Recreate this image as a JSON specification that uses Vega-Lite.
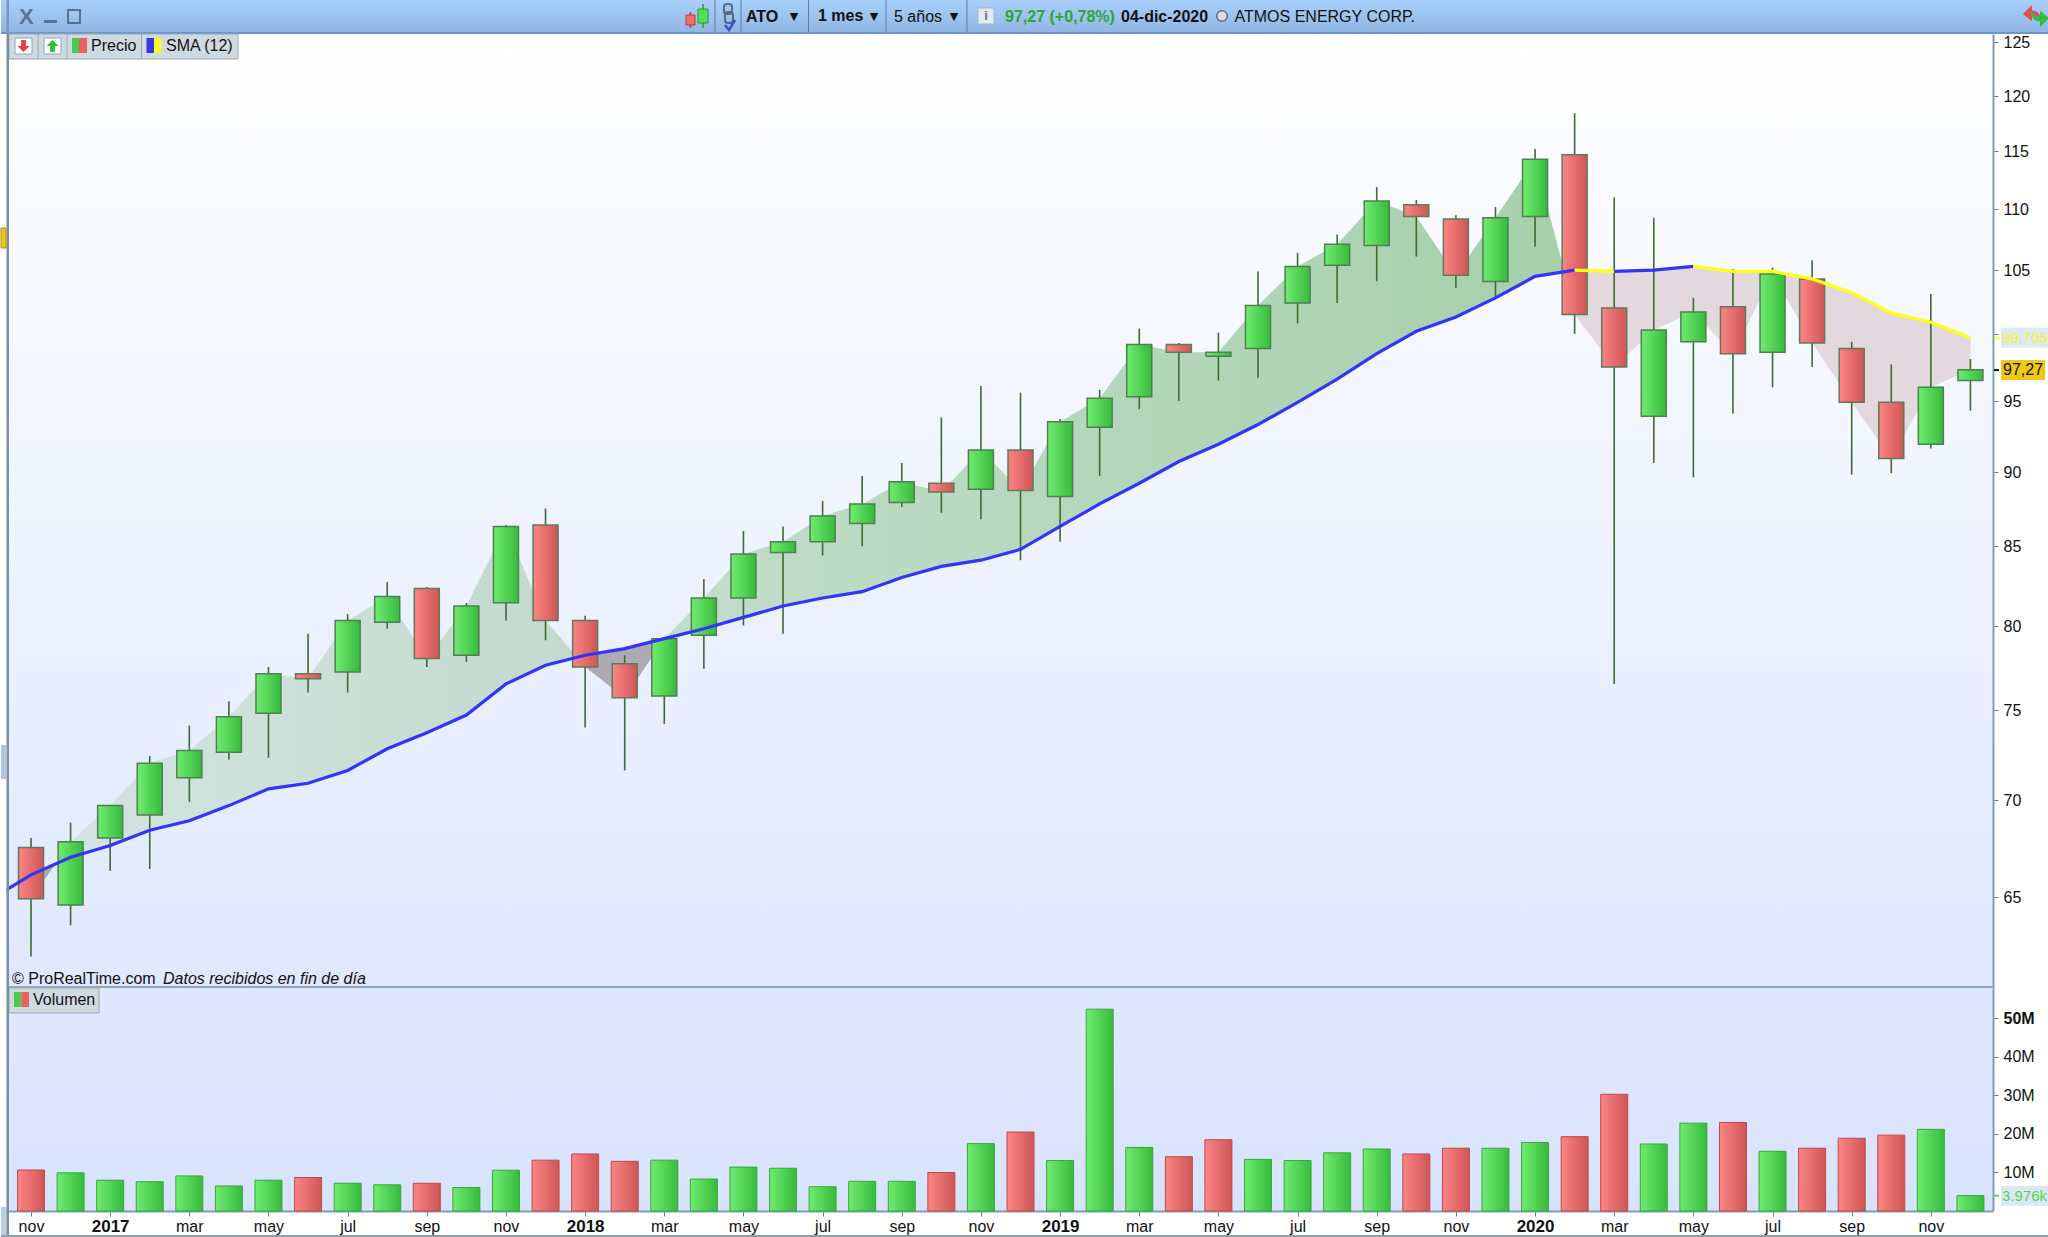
{"$schema":"https://vega.github.io/schema/vega-lite/v6.json","padding":0,"background":"white","spacing":0,"bounds":"flush",
"config":{"view":{"stroke":null},"font":"Liberation Sans","text":{"font":"Liberation Sans","fontSize":16,"color":"#111111"},"axis":{"labelFont":"Liberation Sans","labelFontSize":16,"labelColor":"#111111","title":null,"grid":false,"domainColor":"#7f9db5","domainWidth":2,"tickColor":"#5f7f95","tickSize":5}},
"datasets":{
"velas":[
{"i":0,"o":67.5,"h":68.0,"l":62.1,"c":64.9,"vol":10.65,"vdir":"rojo"},
{"i":1,"o":64.6,"h":68.8,"l":63.6,"c":67.8,"vol":9.9,"vdir":"verde"},
{"i":2,"o":68.0,"h":69.7,"l":66.3,"c":69.7,"vol":8.0,"vdir":"verde"},
{"i":3,"o":69.2,"h":72.4,"l":66.4,"c":72.0,"vol":7.6,"vdir":"verde"},
{"i":4,"o":71.2,"h":74.1,"l":69.9,"c":72.7,"vol":9.1,"vdir":"verde"},
{"i":5,"o":72.6,"h":75.5,"l":72.2,"c":74.6,"vol":6.5,"vdir":"verde"},
{"i":6,"o":74.8,"h":77.5,"l":72.3,"c":77.1,"vol":8.0,"vdir":"verde"},
{"i":7,"o":77.1,"h":79.5,"l":76.0,"c":76.8,"vol":8.7,"vdir":"rojo"},
{"i":8,"o":77.2,"h":80.7,"l":76.0,"c":80.3,"vol":7.2,"vdir":"verde"},
{"i":9,"o":80.2,"h":82.7,"l":79.8,"c":81.8,"vol":6.8,"vdir":"verde"},
{"i":10,"o":82.3,"h":82.4,"l":77.5,"c":78.0,"vol":7.2,"vdir":"rojo"},
{"i":11,"o":78.2,"h":81.4,"l":77.8,"c":81.2,"vol":6.1,"vdir":"verde"},
{"i":12,"o":81.4,"h":86.4,"l":80.3,"c":86.3,"vol":10.6,"vdir":"verde"},
{"i":13,"o":86.4,"h":87.5,"l":79.1,"c":80.3,"vol":13.2,"vdir":"rojo"},
{"i":14,"o":80.3,"h":80.6,"l":74.0,"c":77.5,"vol":14.8,"vdir":"rojo"},
{"i":15,"o":77.7,"h":78.2,"l":71.6,"c":75.7,"vol":12.9,"vdir":"rojo"},
{"i":16,"o":75.8,"h":79.3,"l":74.2,"c":79.2,"vol":13.2,"vdir":"verde"},
{"i":17,"o":79.4,"h":82.9,"l":77.4,"c":81.7,"vol":8.3,"vdir":"verde"},
{"i":18,"o":81.7,"h":86.0,"l":80.0,"c":84.5,"vol":11.4,"vdir":"verde"},
{"i":19,"o":84.6,"h":86.3,"l":79.5,"c":85.3,"vol":11.1,"vdir":"verde"},
{"i":20,"o":85.3,"h":88.0,"l":84.4,"c":87.0,"vol":6.3,"vdir":"verde"},
{"i":21,"o":86.5,"h":89.7,"l":85.0,"c":87.8,"vol":7.7,"vdir":"verde"},
{"i":22,"o":87.9,"h":90.6,"l":87.6,"c":89.3,"vol":7.7,"vdir":"verde"},
{"i":23,"o":89.2,"h":93.8,"l":87.2,"c":88.6,"vol":10.0,"vdir":"rojo"},
{"i":24,"o":88.8,"h":96.1,"l":86.8,"c":91.5,"vol":17.5,"vdir":"verde"},
{"i":25,"o":91.5,"h":95.6,"l":84.1,"c":88.7,"vol":20.5,"vdir":"rojo"},
{"i":26,"o":88.3,"h":93.7,"l":85.3,"c":93.5,"vol":13.1,"vdir":"verde"},
{"i":27,"o":93.1,"h":95.8,"l":89.7,"c":95.2,"vol":52.4,"vdir":"verde"},
{"i":28,"o":95.3,"h":100.4,"l":94.4,"c":99.2,"vol":16.5,"vdir":"verde"},
{"i":29,"o":99.2,"h":99.3,"l":95.0,"c":98.6,"vol":14.1,"vdir":"rojo"},
{"i":30,"o":98.3,"h":100.1,"l":96.5,"c":98.6,"vol":18.5,"vdir":"rojo"},
{"i":31,"o":98.9,"h":104.9,"l":96.7,"c":102.2,"vol":13.4,"vdir":"verde"},
{"i":32,"o":102.4,"h":106.4,"l":100.8,"c":105.3,"vol":13.1,"vdir":"verde"},
{"i":33,"o":105.4,"h":107.9,"l":102.4,"c":107.1,"vol":15.1,"vdir":"verde"},
{"i":34,"o":107.0,"h":111.9,"l":104.1,"c":110.7,"vol":16.1,"vdir":"verde"},
{"i":35,"o":110.4,"h":110.8,"l":106.1,"c":109.4,"vol":14.8,"vdir":"rojo"},
{"i":36,"o":109.2,"h":109.5,"l":103.6,"c":104.6,"vol":16.3,"vdir":"rojo"},
{"i":37,"o":104.1,"h":110.2,"l":102.8,"c":109.3,"vol":16.3,"vdir":"verde"},
{"i":38,"o":109.4,"h":115.2,"l":106.9,"c":114.3,"vol":17.8,"vdir":"verde"},
{"i":39,"o":114.7,"h":118.4,"l":100.0,"c":101.5,"vol":19.3,"vdir":"rojo"},
{"i":40,"o":102.0,"h":111.0,"l":76.5,"c":97.5,"vol":30.3,"vdir":"rojo"},
{"i":41,"o":93.9,"h":109.3,"l":90.6,"c":100.3,"vol":17.4,"vdir":"verde"},
{"i":42,"o":99.4,"h":102.8,"l":89.6,"c":101.7,"vol":22.8,"vdir":"verde"},
{"i":43,"o":102.1,"h":105.1,"l":94.1,"c":98.5,"vol":23.0,"vdir":"rojo"},
{"i":44,"o":98.6,"h":105.2,"l":96.0,"c":104.7,"vol":15.5,"vdir":"verde"},
{"i":45,"o":104.3,"h":105.8,"l":97.5,"c":99.3,"vol":16.3,"vdir":"rojo"},
{"i":46,"o":98.9,"h":99.4,"l":89.8,"c":94.9,"vol":18.9,"vdir":"rojo"},
{"i":47,"o":94.9,"h":97.7,"l":89.9,"c":90.9,"vol":19.7,"vdir":"rojo"},
{"i":48,"o":91.9,"h":103.1,"l":91.6,"c":96.0,"vol":21.2,"vdir":"verde"},
{"i":49,"o":96.5,"h":98.1,"l":94.3,"c":97.3,"vol":3.98,"vdir":"verde"}],
"sma":[
{"i":-1,"sma":64.9,"tramo":"a","dir":"sube"},{"i":0,"sma":66.1,"tramo":"a","dir":"sube"},{"i":1,"sma":67.0,"tramo":"a","dir":"sube"},{"i":2,"sma":67.6,"tramo":"a","dir":"sube"},{"i":3,"sma":68.4,"tramo":"a","dir":"sube"},{"i":4,"sma":68.9,"tramo":"a","dir":"sube"},{"i":5,"sma":69.7,"tramo":"a","dir":"sube"},{"i":6,"sma":70.6,"tramo":"a","dir":"sube"},{"i":7,"sma":70.9,"tramo":"a","dir":"sube"},{"i":8,"sma":71.6,"tramo":"a","dir":"sube"},{"i":9,"sma":72.8,"tramo":"a","dir":"sube"},{"i":10,"sma":73.7,"tramo":"a","dir":"sube"},{"i":11,"sma":74.7,"tramo":"a","dir":"sube"},{"i":12,"sma":76.5,"tramo":"a","dir":"sube"},{"i":13,"sma":77.6,"tramo":"a","dir":"sube"},{"i":14,"sma":78.2,"tramo":"a","dir":"sube"},{"i":15,"sma":78.6,"tramo":"a","dir":"sube"},{"i":16,"sma":79.2,"tramo":"a","dir":"sube"},{"i":17,"sma":79.8,"tramo":"a","dir":"sube"},{"i":18,"sma":80.5,"tramo":"a","dir":"sube"},{"i":19,"sma":81.2,"tramo":"a","dir":"sube"},{"i":20,"sma":81.7,"tramo":"a","dir":"sube"},{"i":21,"sma":82.1,"tramo":"a","dir":"sube"},{"i":22,"sma":83.0,"tramo":"a","dir":"sube"},{"i":23,"sma":83.7,"tramo":"a","dir":"sube"},{"i":24,"sma":84.1,"tramo":"a","dir":"sube"},{"i":25,"sma":84.8,"tramo":"a","dir":"sube"},{"i":26,"sma":86.3,"tramo":"a","dir":"sube"},{"i":27,"sma":87.8,"tramo":"a","dir":"sube"},{"i":28,"sma":89.2,"tramo":"a","dir":"sube"},{"i":29,"sma":90.7,"tramo":"a","dir":"sube"},{"i":30,"sma":91.9,"tramo":"a","dir":"sube"},{"i":31,"sma":93.3,"tramo":"a","dir":"sube"},{"i":32,"sma":94.9,"tramo":"a","dir":"sube"},{"i":33,"sma":96.6,"tramo":"a","dir":"sube"},{"i":34,"sma":98.5,"tramo":"a","dir":"sube"},{"i":35,"sma":100.2,"tramo":"a","dir":"sube"},{"i":36,"sma":101.3,"tramo":"a","dir":"sube"},{"i":37,"sma":102.8,"tramo":"a","dir":"sube"},{"i":38,"sma":104.5,"tramo":"a","dir":"sube"},{"i":39,"sma":105.0,"tramo":"a","dir":"sube"},
{"i":39,"sma":105.0,"tramo":"b","dir":"baja"},{"i":40,"sma":104.9,"tramo":"b","dir":"baja"},
{"i":40,"sma":104.9,"tramo":"c","dir":"sube"},{"i":41,"sma":105.0,"tramo":"c","dir":"sube"},{"i":42,"sma":105.3,"tramo":"c","dir":"sube"},
{"i":42,"sma":105.3,"tramo":"d","dir":"baja"},{"i":43,"sma":104.9,"tramo":"d","dir":"baja"},{"i":44,"sma":104.9,"tramo":"d","dir":"baja"},{"i":45,"sma":104.3,"tramo":"d","dir":"baja"},{"i":46,"sma":103.2,"tramo":"d","dir":"baja"},{"i":47,"sma":101.6,"tramo":"d","dir":"baja"},{"i":48,"sma":100.9,"tramo":"d","dir":"baja"},{"i":49,"sma":99.7,"tramo":"d","dir":"baja"}],
"relleno":[
{"i":0,"c":64.9,"sma":66.1,"tramo":"r0"},{"i":0.6,"c":66.6,"sma":66.6,"tramo":"r0"},
{"i":0.6,"c":66.6,"sma":66.6,"tramo":"v1"},{"i":1,"c":67.8,"sma":67.0,"tramo":"v1"},{"i":2,"c":69.7,"sma":67.6,"tramo":"v1"},{"i":3,"c":72.0,"sma":68.4,"tramo":"v1"},{"i":4,"c":72.7,"sma":68.9,"tramo":"v1"},{"i":5,"c":74.6,"sma":69.7,"tramo":"v1"},{"i":6,"c":77.1,"sma":70.6,"tramo":"v1"},{"i":7,"c":76.8,"sma":70.9,"tramo":"v1"},{"i":8,"c":80.3,"sma":71.6,"tramo":"v1"},{"i":9,"c":81.8,"sma":72.8,"tramo":"v1"},{"i":10,"c":78.0,"sma":73.7,"tramo":"v1"},{"i":11,"c":81.2,"sma":74.7,"tramo":"v1"},{"i":12,"c":86.3,"sma":76.5,"tramo":"v1"},{"i":13,"c":80.3,"sma":77.6,"tramo":"v1"},{"i":13.8,"c":78.1,"sma":78.1,"tramo":"v1"},
{"i":13.8,"c":78.1,"sma":78.1,"tramo":"r1"},{"i":14,"c":77.5,"sma":78.2,"tramo":"r1"},{"i":15,"c":75.7,"sma":78.6,"tramo":"r1"},{"i":16,"c":79.2,"sma":79.2,"tramo":"r1"},
{"i":16,"c":79.2,"sma":79.2,"tramo":"v2"},{"i":17,"c":81.7,"sma":79.8,"tramo":"v2"},{"i":18,"c":84.5,"sma":80.5,"tramo":"v2"},{"i":19,"c":85.3,"sma":81.2,"tramo":"v2"},{"i":20,"c":87.0,"sma":81.7,"tramo":"v2"},{"i":21,"c":87.8,"sma":82.1,"tramo":"v2"},{"i":22,"c":89.3,"sma":83.0,"tramo":"v2"},{"i":23,"c":88.6,"sma":83.7,"tramo":"v2"},{"i":24,"c":91.5,"sma":84.1,"tramo":"v2"},{"i":25,"c":88.7,"sma":84.8,"tramo":"v2"},{"i":26,"c":93.5,"sma":86.3,"tramo":"v2"},{"i":27,"c":95.2,"sma":87.8,"tramo":"v2"},{"i":28,"c":99.2,"sma":89.2,"tramo":"v2"},{"i":29,"c":98.6,"sma":90.7,"tramo":"v2"},{"i":30,"c":98.6,"sma":91.9,"tramo":"v2"},{"i":31,"c":102.2,"sma":93.3,"tramo":"v2"},{"i":32,"c":105.3,"sma":94.9,"tramo":"v2"},{"i":33,"c":107.1,"sma":96.6,"tramo":"v2"},{"i":34,"c":110.7,"sma":98.5,"tramo":"v2"},{"i":35,"c":109.4,"sma":100.2,"tramo":"v2"},{"i":36,"c":104.6,"sma":101.3,"tramo":"v2"},{"i":37,"c":109.3,"sma":102.8,"tramo":"v2"},{"i":38,"c":114.3,"sma":104.5,"tramo":"v2"},{"i":38.74,"c":104.9,"sma":104.9,"tramo":"v2"},
{"i":38.74,"c":104.9,"sma":104.9,"tramo":"r2"},{"i":39,"c":101.5,"sma":105.0,"tramo":"r2"},{"i":40,"c":97.5,"sma":104.9,"tramo":"r2"},{"i":41,"c":100.3,"sma":105.0,"tramo":"r2"},{"i":42,"c":101.7,"sma":105.3,"tramo":"r2"},{"i":43,"c":98.5,"sma":104.9,"tramo":"r2"},{"i":44,"c":104.7,"sma":104.9,"tramo":"r2"},{"i":45,"c":99.3,"sma":104.3,"tramo":"r2"},{"i":46,"c":94.9,"sma":103.2,"tramo":"r2"},{"i":47,"c":90.9,"sma":101.6,"tramo":"r2"},{"i":48,"c":96.0,"sma":100.9,"tramo":"r2"},{"i":49,"c":97.3,"sma":99.7,"tramo":"r2"}]
},
"vconcat":[
{"width":2048,"height":34,"data":{"values":[{}]},
"view":{"fill":{"gradient":"linear","x1":0,"x2":0,"y1":0,"y2":1,"stops":[{"offset":0,"color":"#a9d0fd"},{"offset":1,"color":"#8fb4e2"}]},"stroke":null},
"layer":[
{"mark":{"type":"rect","color":"#6f96c8"},"encoding":{"x":{"value":0},"x2":{"value":2048},"y":{"value":32},"y2":{"value":34}}},
{"mark":{"type":"rect","color":"#7d97b0"},"encoding":{"x":{"value":5.5},"x2":{"value":8},"y":{"value":0},"y2":{"value":34}}},
{"mark":{"type":"text","align":"left","fontSize":22,"fontWeight":"bold","color":"#5d7390","text":"X"},"encoding":{"x":{"value":18},"y":{"value":17}}},
{"mark":{"type":"rect","color":"#5b7190"},"encoding":{"x":{"value":43},"x2":{"value":56},"y":{"value":20},"y2":{"value":23}}},
{"mark":{"type":"rect","fill":null,"stroke":"#5b7190","strokeWidth":2},"encoding":{"x":{"value":67},"x2":{"value":79},"y":{"value":10},"y2":{"value":23}}},
{"mark":{"type":"rule","color":"#b33c3c","strokeWidth":1.5},"encoding":{"x":{"value":689.5},"y":{"value":12},"y2":{"value":28}}},
{"mark":{"type":"rect","fill":"#f07070","stroke":"#b33c3c"},"encoding":{"x":{"value":685},"x2":{"value":694},"y":{"value":15},"y2":{"value":25}}},
{"mark":{"type":"rule","color":"#2a9a2a","strokeWidth":1.5},"encoding":{"x":{"value":702},"y":{"value":4},"y2":{"value":28}}},
{"mark":{"type":"rect","fill":"#55dd55","stroke":"#2a9a2a"},"encoding":{"x":{"value":697},"x2":{"value":707},"y":{"value":9},"y2":{"value":23}}},
{"mark":{"type":"rect","color":"#5f7ea6"},"encoding":{"x":{"value":713.5},"x2":{"value":714.5},"y":{"value":0},"y2":{"value":33}}},
{"mark":{"type":"rect","color":"#5f7ea6"},"encoding":{"x":{"value":739.5},"x2":{"value":740.5},"y":{"value":0},"y2":{"value":33}}},
{"mark":{"type":"rect","color":"#5f7ea6"},"encoding":{"x":{"value":807},"x2":{"value":808},"y":{"value":0},"y2":{"value":33}}},
{"mark":{"type":"rect","color":"#5f7ea6"},"encoding":{"x":{"value":884.5},"x2":{"value":885.5},"y":{"value":0},"y2":{"value":33}}},
{"mark":{"type":"rect","color":"#5f7ea6"},"encoding":{"x":{"value":965.5},"x2":{"value":966.5},"y":{"value":0},"y2":{"value":33}}},
{"mark":{"type":"rect","fill":null,"stroke":"#55687f","strokeWidth":2,"cornerRadius":3},"encoding":{"x":{"value":723},"x2":{"value":731},"y":{"value":4},"y2":{"value":14}}},
{"mark":{"type":"rect","fill":null,"stroke":"#55687f","strokeWidth":2,"cornerRadius":3},"encoding":{"x":{"value":724},"x2":{"value":732},"y":{"value":12},"y2":{"value":23}}},
{"mark":{"type":"point","shape":"M-0.5,0L-0.1,0.5L0.5,-0.5","size":400,"filled":false,"fill":null,"stroke":"#3a50d0","strokeWidth":2.5,"opacity":1},"encoding":{"x":{"value":729},"y":{"value":25}}},
{"mark":{"type":"text","align":"left","fontWeight":"bold","text":"ATO"},"encoding":{"x":{"value":745},"y":{"value":17}}},
{"mark":{"type":"text","font":"DejaVu Sans","fontSize":11,"text":"▼"},"encoding":{"x":{"value":793},"y":{"value":17}}},
{"mark":{"type":"text","align":"left","fontWeight":"bold","text":"1 mes"},"encoding":{"x":{"value":817},"y":{"value":16}}},
{"mark":{"type":"text","font":"DejaVu Sans","fontSize":11,"text":"▼"},"encoding":{"x":{"value":873},"y":{"value":17}}},
{"mark":{"type":"text","align":"left","text":"5 años"},"encoding":{"x":{"value":893},"y":{"value":17}}},
{"mark":{"type":"text","font":"DejaVu Sans","fontSize":11,"text":"▼"},"encoding":{"x":{"value":953},"y":{"value":17}}},
{"mark":{"type":"rect","fill":"#e4eaf0","stroke":"#a8b4c0"},"encoding":{"x":{"value":977},"x2":{"value":993},"y":{"value":8},"y2":{"value":24}}},
{"mark":{"type":"text","fontWeight":"bold","fontSize":13,"color":"#5b7190","text":"i"},"encoding":{"x":{"value":985},"y":{"value":16}}},
{"mark":{"type":"text","align":"left","fontWeight":"bold","color":"#2fa52f","text":"97,27 (+0,78%)"},"encoding":{"x":{"value":1004},"y":{"value":17}}},
{"mark":{"type":"text","align":"left","fontWeight":"bold","text":"04-dic-2020"},"encoding":{"x":{"value":1120},"y":{"value":17}}},
{"mark":{"type":"point","size":110,"filled":true,"fill":"#d5dde5","stroke":"#666f78","strokeWidth":1.5,"opacity":1},"encoding":{"x":{"value":1221},"y":{"value":16}}},
{"mark":{"type":"text","align":"left","text":"ATMOS ENERGY CORP."},"encoding":{"x":{"value":1233.5},"y":{"value":17}}},
{"mark":{"type":"point","shape":"M-0.5,0L0,-0.5L0,-0.2C0.3,-0.2 0.5,0 0.5,0.4C0.3,0.1 0.2,0.1 0,0.1L0,0.4Z","size":1300,"filled":true,"fill":"#e0504c","stroke":null,"opacity":1},"encoding":{"x":{"value":2031},"y":{"value":14}}},
{"mark":{"type":"point","shape":"M0.5,0L0,0.5L0,0.2C-0.3,0.2 -0.5,0 -0.5,-0.4C-0.3,-0.1 -0.2,-0.1 0,-0.1L0,-0.4Z","size":1300,"filled":true,"fill":"#2fbf3f","stroke":null,"opacity":1},"encoding":{"x":{"value":2039},"y":{"value":18}}}
]},
{"width":1992,"height":954,
"view":{"fill":{"gradient":"linear","x1":0,"x2":0,"y1":0,"y2":1,"stops":[{"offset":0,"color":"#ffffff"},{"offset":1,"color":"#dfe8ff"}]},"stroke":null},
"encoding":{"x":{"field":"i","type":"quantitative","axis":null,"scale":{"domain":[-0.758,49.57],"nice":false,"zero":false,"padding":0}}},
"layer":[
{"data":{"name":"relleno"},"transform":[{"filter":"datum.tramo=='v1'"}],"mark":{"type":"area","fill":{"gradient":"linear","x1":0,"x2":1,"y1":0,"y2":0,"stops":[{"offset":0,"color":"#d4e4e1"},{"offset":1,"color":"#c3dace"}]}},"encoding":{"y":{"field":"c","type":"quantitative","scale":{"type":"log","domain":[60.62,125.8],"nice":false,"zero":false}},"y2":{"field":"sma"}}},
{"data":{"name":"relleno"},"transform":[{"filter":"datum.tramo=='v2'"}],"mark":{"type":"area","fill":{"gradient":"linear","x1":0,"x2":1,"y1":0,"y2":0,"stops":[{"offset":0,"color":"#c3ddcb"},{"offset":1,"color":"#a6d0aa"}]}},"encoding":{"y":{"field":"c","type":"quantitative","scale":{"type":"log","domain":[60.62,125.8],"nice":false,"zero":false}},"y2":{"field":"sma"}}},
{"data":{"name":"relleno"},"transform":[{"filter":"datum.tramo=='r0'||datum.tramo=='r1'"}],"mark":{"type":"area","fill":"#aeaab5"},"encoding":{"detail":{"field":"tramo"},"y":{"field":"c","type":"quantitative","scale":{"type":"log","domain":[60.62,125.8],"nice":false,"zero":false}},"y2":{"field":"sma"}}},
{"data":{"name":"relleno"},"transform":[{"filter":"datum.tramo=='r2'"}],"mark":{"type":"area","fill":"#e3d8de"},"encoding":{"y":{"field":"c","type":"quantitative","scale":{"type":"log","domain":[60.62,125.8],"nice":false,"zero":false}},"y2":{"field":"sma"}}},
{"data":{"name":"velas"},"mark":{"type":"rule","color":"#3d6b30","strokeWidth":1.6},"encoding":{"y":{"field":"l","type":"quantitative","scale":{"type":"log","domain":[60.62,125.8],"nice":false,"zero":false},"axis":{"orient":"right","values":[65,70,75,80,85,90,95,100,105,110,115,120,125],"labelExpr":"datum.value==100?'':format(datum.value,'d')","labelPadding":5,"labelOffset":0.5}},"y2":{"field":"h"}}},
{"data":{"name":"velas"},"transform":[{"filter":"datum.c>=datum.o"}],"mark":{"type":"bar","width":25,"stroke":"#4f8050","strokeWidth":1.5,"fill":{"gradient":"linear","x1":0,"x2":1,"y1":0,"y2":0,"stops":[{"offset":0,"color":"#70ec70"},{"offset":1,"color":"#36bb3c"}]}},"encoding":{"y":{"field":"c","type":"quantitative","scale":{"type":"log","domain":[60.62,125.8],"nice":false,"zero":false}},"y2":{"field":"o"}}},
{"data":{"name":"velas"},"transform":[{"filter":"datum.c<datum.o"}],"mark":{"type":"bar","width":25,"stroke":"#5f7a5a","strokeWidth":1.5,"fill":{"gradient":"linear","x1":0,"x2":1,"y1":0,"y2":0,"stops":[{"offset":0,"color":"#fb8484"},{"offset":1,"color":"#cf5656"}]}},"encoding":{"y":{"field":"c","type":"quantitative","scale":{"type":"log","domain":[60.62,125.8],"nice":false,"zero":false}},"y2":{"field":"o"}}},
{"data":{"name":"sma"},"mark":{"type":"line","strokeWidth":3.2,"clip":true},"encoding":{"detail":{"field":"tramo"},"color":{"field":"dir","legend":null,"scale":{"domain":["sube","baja"],"range":["#3434f8","#ffff14"]}},"y":{"field":"sma","type":"quantitative","scale":{"type":"log","domain":[60.62,125.8],"nice":false,"zero":false}}}},
{"data":{"values":[{}]},"mark":{"type":"rect","fill":"#cfdae0","stroke":"#98a9b5"},"encoding":{"x":{"value":8},"x2":{"value":237},"y":{"value":0},"y2":{"value":25}}},
{"data":{"values":[{}]},"mark":{"type":"rect","color":"#98a9b5"},"encoding":{"x":{"value":36.5},"x2":{"value":37.5},"y":{"value":0},"y2":{"value":25}}},
{"data":{"values":[{}]},"mark":{"type":"rect","color":"#98a9b5"},"encoding":{"x":{"value":65.5},"x2":{"value":66.5},"y":{"value":0},"y2":{"value":25}}},
{"data":{"values":[{}]},"mark":{"type":"rect","color":"#98a9b5"},"encoding":{"x":{"value":140},"x2":{"value":141},"y":{"value":0},"y2":{"value":25}}},
{"data":{"values":[{}]},"mark":{"type":"rect","fill":"#ffffff","stroke":"#8ca6c4"},"encoding":{"x":{"value":14},"x2":{"value":31},"y":{"value":4},"y2":{"value":20}}},
{"data":{"values":[{}]},"mark":{"type":"point","shape":"M-0.2,-0.5H0.2V0H0.5L0,0.5L-0.5,0H-0.2Z","size":576,"filled":true,"fill":"#e04040","stroke":null,"opacity":1},"encoding":{"x":{"value":22.5},"y":{"value":12}}},
{"data":{"values":[{}]},"mark":{"type":"rect","fill":"#ffffff","stroke":"#8ca6c4"},"encoding":{"x":{"value":43},"x2":{"value":60},"y":{"value":4},"y2":{"value":20}}},
{"data":{"values":[{}]},"mark":{"type":"point","shape":"M-0.2,0.5H0.2V0H0.5L0,-0.5L-0.5,0H-0.2Z","size":576,"filled":true,"fill":"#30c030","stroke":null,"opacity":1},"encoding":{"x":{"value":51.5},"y":{"value":12}}},
{"data":{"values":[{}]},"mark":{"type":"rect","color":"#4fc84f"},"encoding":{"x":{"value":71},"x2":{"value":78},"y":{"value":4},"y2":{"value":19}}},
{"data":{"values":[{}]},"mark":{"type":"rect","color":"#e86060"},"encoding":{"x":{"value":78},"x2":{"value":86},"y":{"value":4},"y2":{"value":19}}},
{"data":{"values":[{}]},"mark":{"type":"text","align":"left","text":"Precio"},"encoding":{"x":{"value":90},"y":{"value":12}}},
{"data":{"values":[{}]},"mark":{"type":"rect","color":"#3535f0"},"encoding":{"x":{"value":145.5},"x2":{"value":153},"y":{"value":4},"y2":{"value":19}}},
{"data":{"values":[{}]},"mark":{"type":"rect","color":"#ffff14"},"encoding":{"x":{"value":153},"x2":{"value":160},"y":{"value":4},"y2":{"value":19}}},
{"data":{"values":[{}]},"mark":{"type":"text","align":"left","text":"SMA (12)"},"encoding":{"x":{"value":165},"y":{"value":12}}},
{"data":{"values":[{}]},"mark":{"type":"text","align":"left","text":"© ProRealTime.com"},"encoding":{"x":{"value":11},"y":{"value":945}}},
{"data":{"values":[{}]},"mark":{"type":"text","align":"left","fontStyle":"italic","text":"Datos recibidos en fin de día"},"encoding":{"x":{"value":162},"y":{"value":945}}},
{"data":{"values":[{}]},"mark":{"type":"rect","color":"#ffffff"},"encoding":{"x":{"value":0},"x2":{"value":5.5},"y":{"value":0},"y2":{"value":954}}},
{"data":{"values":[{}]},"mark":{"type":"rect","color":"#7d8f9f"},"encoding":{"x":{"value":5.5},"x2":{"value":8},"y":{"value":0},"y2":{"value":954}}},
{"data":{"values":[{}]},"mark":{"type":"rect","fill":"#f0c814","stroke":"#a89020"},"encoding":{"x":{"value":0},"x2":{"value":5},"y":{"value":194},"y2":{"value":214}}},
{"data":{"values":[{}]},"mark":{"type":"rect","color":"#b0c4da"},"encoding":{"x":{"value":0},"x2":{"value":5},"y":{"value":711},"y2":{"value":745}}},
{"data":{"values":[{}]},"mark":{"type":"rect","color":"#8fa8bc"},"encoding":{"x":{"value":8},"x2":{"value":1992},"y":{"value":952},"y2":{"value":954}}},
{"data":{"values":[{"etiqueta":"99,705","valor":99.705}]},"mark":{"type":"rule","color":"#dfe8f5","strokeWidth":20},"encoding":{"x":{"value":2000},"x2":{"value":2048},"y":{"field":"valor","type":"quantitative","scale":{"type":"log","domain":[60.62,125.8],"nice":false,"zero":false}}}},
{"data":{"values":[{"etiqueta":"99,705","valor":99.705}]},"mark":{"type":"rule","color":"#ffff14","strokeWidth":2},"encoding":{"x":{"value":1993},"x2":{"value":1998},"y":{"field":"valor","type":"quantitative","scale":{"type":"log","domain":[60.62,125.8],"nice":false,"zero":false}}}},
{"data":{"values":[{"etiqueta":"99,705","valor":99.705}]},"mark":{"type":"text","align":"left","color":"#f5f520","fontSize":15},"encoding":{"x":{"value":2001},"y":{"field":"valor","type":"quantitative","scale":{"type":"log","domain":[60.62,125.8],"nice":false,"zero":false}},"text":{"field":"etiqueta"}}},
{"data":{"values":[{"etiqueta":"97,27","valor":97.27}]},"mark":{"type":"rule","color":"#f0c814","strokeWidth":20},"encoding":{"x":{"value":2000},"x2":{"value":2044},"y":{"field":"valor","type":"quantitative","scale":{"type":"log","domain":[60.62,125.8],"nice":false,"zero":false}}}},
{"data":{"values":[{"etiqueta":"97,27","valor":97.27}]},"mark":{"type":"rule","color":"#111111","strokeWidth":2},"encoding":{"x":{"value":1993},"x2":{"value":1998},"y":{"field":"valor","type":"quantitative","scale":{"type":"log","domain":[60.62,125.8],"nice":false,"zero":false}}}},
{"data":{"values":[{"etiqueta":"97,27","valor":97.27}]},"mark":{"type":"text","align":"left","color":"#111111","fontSize":16},"encoding":{"x":{"value":2002},"y":{"field":"valor","type":"quantitative","scale":{"type":"log","domain":[60.62,125.8],"nice":false,"zero":false}},"text":{"field":"etiqueta"}}}
]},
{"width":1992,"height":223,
"view":{"fill":{"gradient":"linear","x1":0,"x2":0,"y1":0,"y2":1,"stops":[{"offset":0,"color":"#dee8ff"},{"offset":0.3,"color":"#e0e6fc"},{"offset":1,"color":"#d7e3fd"}]},"stroke":null},
"encoding":{"x":{"field":"i","type":"quantitative","scale":{"domain":[-0.758,49.57],"nice":false,"zero":false,"padding":0},"axis":{"values":[0,2,4,6,8,10,12,14,16,18,20,22,24,26,28,30,32,34,36,38,40,42,44,46,48],"labelFlush":false,"labelOverlap":false,"labelPadding":2,"labelExpr":"datum.value==2?'2017':datum.value==14?'2018':datum.value==26?'2019':datum.value==38?'2020':['nov','','mar','may','jul','sep'][(datum.value/2)%6]","labelFontWeight":{"condition":{"test":"datum.value%12==2","value":"bold"},"value":"normal"},"labelFontSize":{"condition":{"test":"datum.value%12==2","value":17},"value":16}}}},
"layer":[
{"data":{"name":"velas"},"transform":[{"filter":"datum.vdir=='verde'"}],"mark":{"type":"bar","width":27,"stroke":"#38a838","strokeWidth":1,"fill":{"gradient":"linear","x1":0,"x2":1,"y1":0,"y2":0,"stops":[{"offset":0,"color":"#70ec70"},{"offset":1,"color":"#36bb3c"}]}},"encoding":{"y":{"field":"vol","type":"quantitative","scale":{"domain":[0,57.9],"nice":false},"axis":{"orient":"right","values":[10,20,30,40,50],"labelPadding":5,"labelExpr":"datum.value+'M'","labelFontWeight":{"condition":{"test":"datum.value==50","value":"bold"},"value":"normal"}}}}},
{"data":{"name":"velas"},"transform":[{"filter":"datum.vdir=='rojo'"}],"mark":{"type":"bar","width":27,"stroke":"#c04848","strokeWidth":1,"fill":{"gradient":"linear","x1":0,"x2":1,"y1":0,"y2":0,"stops":[{"offset":0,"color":"#fb8484"},{"offset":1,"color":"#cf5656"}]}},"encoding":{"y":{"field":"vol","type":"quantitative","scale":{"domain":[0,57.9],"nice":false}}}},
{"data":{"values":[{}]},"mark":{"type":"rect","fill":"#cfdae0","stroke":"#98a9b5"},"encoding":{"x":{"value":8},"x2":{"value":98},"y":{"value":0},"y2":{"value":25}}},
{"data":{"values":[{}]},"mark":{"type":"rect","color":"#4fc84f"},"encoding":{"x":{"value":13},"x2":{"value":20.5},"y":{"value":4},"y2":{"value":19}}},
{"data":{"values":[{}]},"mark":{"type":"rect","color":"#e86060"},"encoding":{"x":{"value":20.5},"x2":{"value":28},"y":{"value":4},"y2":{"value":19}}},
{"data":{"values":[{}]},"mark":{"type":"text","align":"left","text":"Volumen"},"encoding":{"x":{"value":32},"y":{"value":12}}},
{"data":{"values":[{}]},"mark":{"type":"rect","color":"#ffffff"},"encoding":{"x":{"value":0},"x2":{"value":5.5},"y":{"value":0},"y2":{"value":219}}},
{"data":{"values":[{}]},"mark":{"type":"rect","color":"#b9cde3"},"encoding":{"x":{"value":0},"x2":{"value":5.5},"y":{"value":219},"y2":{"value":249}}},
{"data":{"values":[{}]},"mark":{"type":"rect","color":"#7d8f9f"},"encoding":{"x":{"value":5.5},"x2":{"value":8},"y":{"value":0},"y2":{"value":249}}},
{"data":{"values":[{}]},"mark":{"type":"rect","color":"#8e9dab"},"encoding":{"x":{"value":0},"x2":{"value":2048},"y":{"value":247},"y2":{"value":249}}},
{"data":{"values":[{"etiqueta":"3.976k","valor":3.976}]},"mark":{"type":"rule","color":"#dde6f5","strokeWidth":20},"encoding":{"x":{"value":2000},"x2":{"value":2048},"y":{"field":"valor","type":"quantitative","scale":{"domain":[0,57.9],"nice":false}}}},
{"data":{"values":[{"etiqueta":"3.976k","valor":3.976}]},"mark":{"type":"rule","color":"#55dd55","strokeWidth":2},"encoding":{"x":{"value":1993},"x2":{"value":1998},"y":{"field":"valor","type":"quantitative","scale":{"domain":[0,57.9],"nice":false}}}},
{"data":{"values":[{"etiqueta":"3.976k","valor":3.976}]},"mark":{"type":"text","align":"left","color":"#4fd84f","fontSize":15},"encoding":{"x":{"value":2001},"y":{"field":"valor","type":"quantitative","scale":{"domain":[0,57.9],"nice":false}},"text":{"field":"etiqueta"}}}
]}
]}
